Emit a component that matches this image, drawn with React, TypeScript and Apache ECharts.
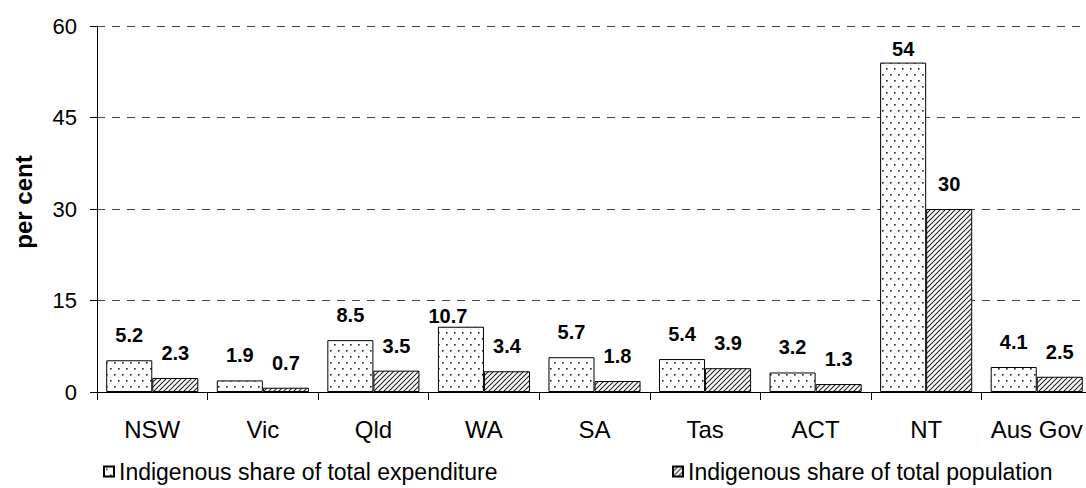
import React, { useEffect, useRef } from "react";
import * as echarts from "echarts";

const categories = ["NSW", "Vic", "Qld", "WA", "SA", "Tas", "ACT", "NT", "Aus Gov"];
const expenditureShare = [5.2, 1.9, 8.5, 10.7, 5.7, 5.4, 3.2, 54, 4.1];
const populationShare = [2.3, 0.7, 3.5, 3.4, 1.8, 3.9, 1.3, 30, 2.5];
const seriesNames = ["Indigenous share of total expenditure", "Indigenous share of total population"];
const yTicks = { min: 0, max: 60, interval: 15 };
const yAxisTitle = "per cent";

const FONT = "'Liberation Sans', Arial, Helvetica, sans-serif";

function makeDots(): HTMLCanvasElement {
  const w = 8;
  const h = 12;
  const c = document.createElement("canvas");
  c.width = w;
  c.height = h;
  const ctx = c.getContext("2d")!;
  ctx.fillStyle = "#ffffff";
  ctx.fillRect(0, 0, w, h);
  ctx.fillStyle = "#222222";
  ctx.fillRect(2, 2, 1.6, 1.6);
  ctx.fillRect(6, 8, 1.6, 1.6);
  return c;
}

function makeHatch(): HTMLCanvasElement {
  const s = 5;
  const c = document.createElement("canvas");
  c.width = s;
  c.height = s;
  const ctx = c.getContext("2d")!;
  ctx.fillStyle = "#ffffff";
  ctx.fillRect(0, 0, s, s);
  ctx.strokeStyle = "#222222";
  ctx.lineWidth = 1.1;
  ctx.beginPath();
  ctx.moveTo(0, s);
  ctx.lineTo(s, 0);
  ctx.moveTo(-1, 1);
  ctx.lineTo(1, -1);
  ctx.moveTo(s - 1, s + 1);
  ctx.lineTo(s + 1, s - 1);
  ctx.stroke();
  return c;
}

export default function App() {
  const ref = useRef<HTMLDivElement>(null);

  useEffect(() => {
    if (!ref.current) return;
    const chart = echarts.init(ref.current, undefined, { renderer: "svg" });
    const dotPattern: any = { image: makeDots(), repeat: "repeat", imageWidth: 8, imageHeight: 12 };
    const hatchPattern: any = { image: makeHatch(), repeat: "repeat", imageWidth: 5, imageHeight: 5 };

    const expData = expenditureShare.map((v, i) => {
      if (categories[i] === "NT") return { value: v, label: { distance: 4 } };
      if (categories[i] === "WA") return { value: v, label: { distance: 1, offset: [-13, 0] } };
      return { value: v };
    });

    const labelStyle = {
      show: true,
      position: "top",
      distance: 15,
      fontFamily: FONT,
      fontWeight: "bold",
      fontSize: 20,
      color: "#000",
    };

    const legendText = { fontFamily: FONT, fontSize: 23, color: "#000" };

    chart.setOption({
      animation: false,
      backgroundColor: "#ffffff",
      grid: { left: 97, top: 26, bottom: 96, right: 0, containLabel: false },
      legend: [
        {
          data: [seriesNames[0]],
          left: 98,
          top: 455,
          itemWidth: 10,
          itemHeight: 10,
          icon: "rect",
          textStyle: legendText,
        },
        {
          data: [seriesNames[1]],
          left: 667,
          top: 455,
          itemWidth: 10,
          itemHeight: 10,
          icon: "rect",
          textStyle: legendText,
        },
      ],
      graphic: [
        {
          type: "text",
          x: 23,
          y: 202,
          rotation: Math.PI / 2,
          style: {
            text: yAxisTitle,
            font: `bold 24px ${FONT}`,
            fill: "#000",
            textAlign: "center",
            textVerticalAlign: "middle",
          },
        },
      ],
      xAxis: {
        type: "category",
        data: categories,
        axisLine: { show: true, lineStyle: { color: "#000", width: 1 } },
        axisTick: { show: true, alignWithLabel: false, length: 8, lineStyle: { color: "#000" } },
        axisLabel: { fontFamily: FONT, fontSize: 24, color: "#000", margin: 25, interval: 0 },
        splitLine: { show: false },
      },
      yAxis: {
        type: "value",
        min: yTicks.min,
        max: yTicks.max,
        interval: yTicks.interval,
        axisLine: { show: true, lineStyle: { color: "#000", width: 1 } },
        axisTick: { show: true, length: 7, lineStyle: { color: "#000" } },
        axisLabel: { fontFamily: FONT, fontSize: 22, color: "#000", margin: 20 },
        splitLine: { show: true, lineStyle: { color: "#444", type: [8, 7], width: 1 } },
      },
      series: [
        {
          name: seriesNames[0],
          type: "bar",
          data: expData,
          barGap: "0%",
          barCategoryGap: "16.7%",
          itemStyle: { color: dotPattern, borderColor: "#000", borderWidth: 1 },
          label: labelStyle,
        },
        {
          name: seriesNames[1],
          type: "bar",
          data: populationShare,
          barGap: "0%",
          barCategoryGap: "16.7%",
          itemStyle: { color: hatchPattern, borderColor: "#000", borderWidth: 1 },
          label: labelStyle,
        },
      ],
    });
    return () => chart.dispose();
  }, []);

  return (
    <div style={{ position: "absolute", left: 0, top: 0, width: 1086, height: 488, overflow: "hidden", background: "#fff" }}>
      <div ref={ref} style={{ position: "absolute", left: 0, top: 0, width: 1092, height: 488 }} />
    </div>
  );
}
